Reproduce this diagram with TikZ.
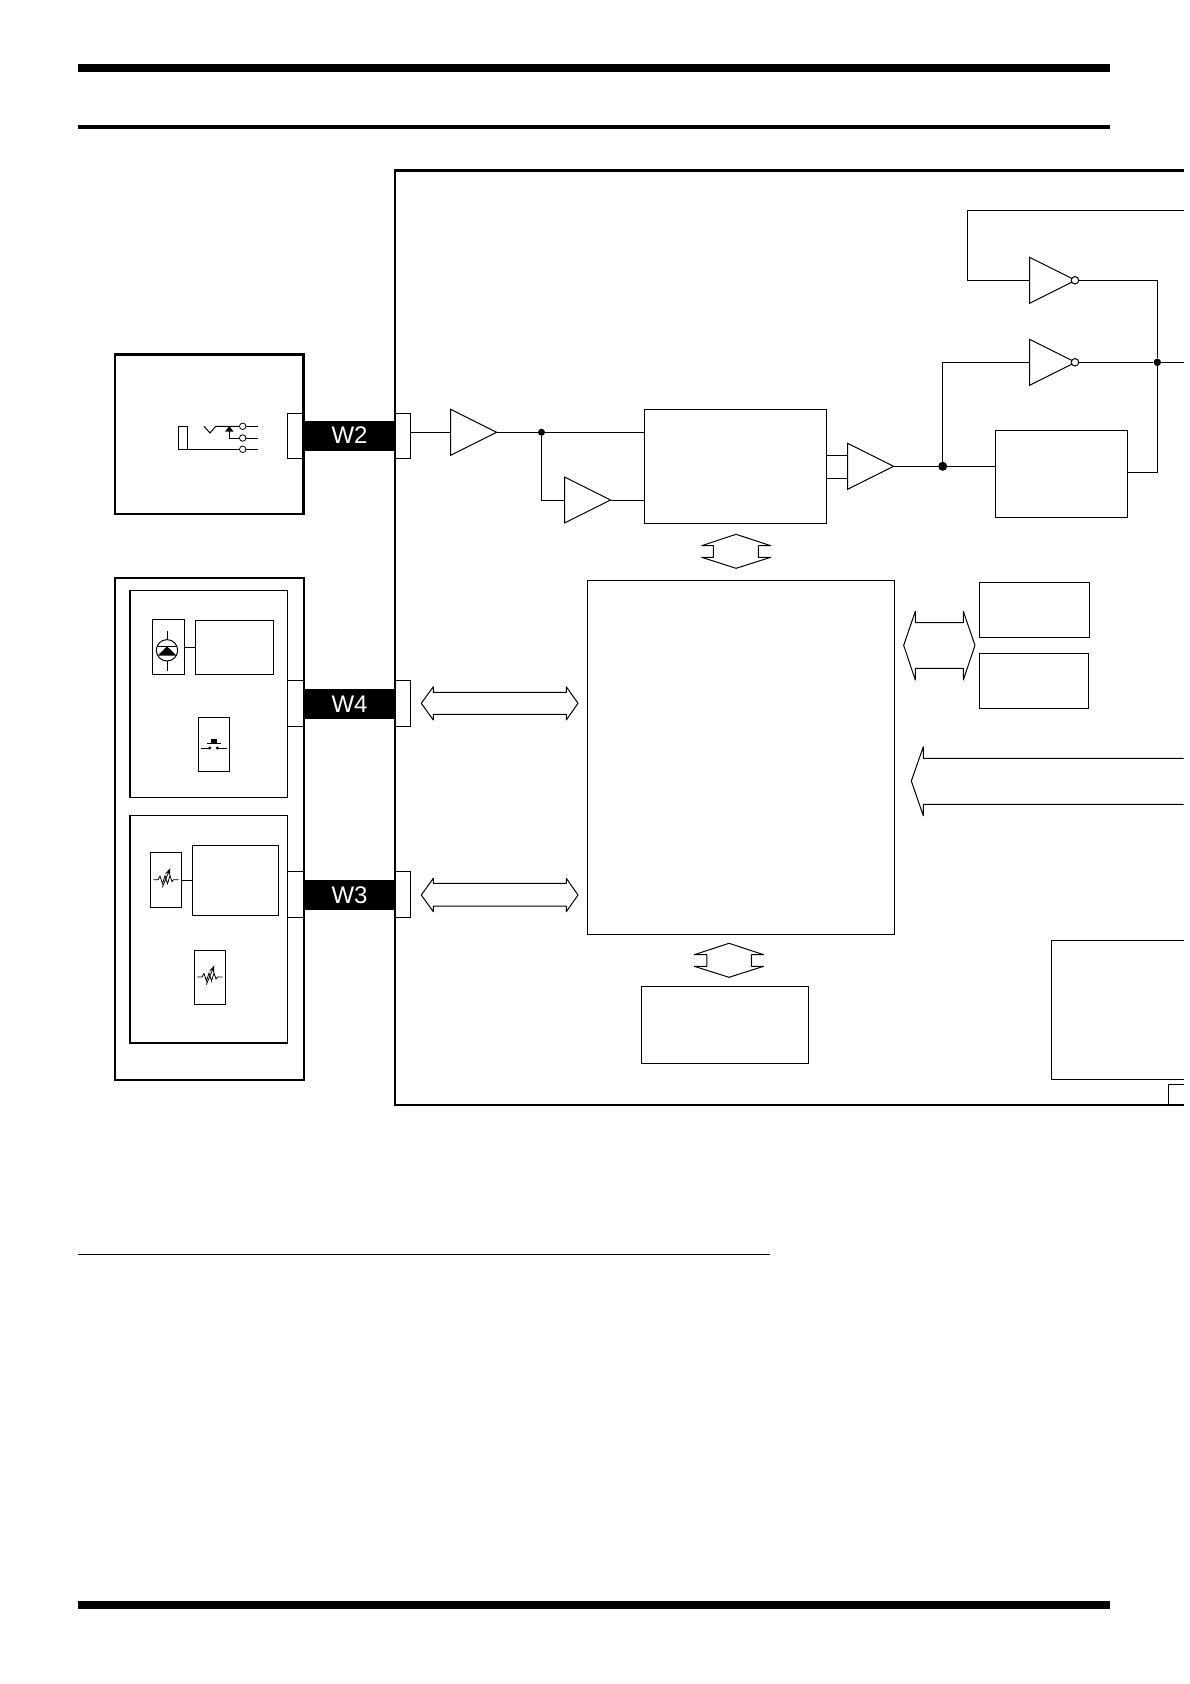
\documentclass[tikz,border=0pt]{standalone}
\usepackage{fontspec}
\setmainfont{Liberation Sans}
\usetikzlibrary{arrows.meta,shapes.geometric}
\tikzset{
    box/.style={draw,line width=1pt,inner sep=0pt,outer sep=0pt},
    frame/.style={box,line width=2.4pt},
    panel/.style={box,line width=1.5pt},
    wirelabel/.style={fill=black,text=white,inner sep=0pt,outer sep=0pt,font=\fontsize{24}{24}\selectfont,minimum width=91pt,minimum height=30pt},
    tab/.style={box,minimum width=15.7pt,minimum height=45.5pt},
    amp/.style={draw,line width=1pt,isosceles triangle,isosceles triangle stretches,isosceles triangle apex angle=60,minimum width=46pt,minimum height=46pt,inner sep=0pt,outer sep=0pt,anchor=lower side},
    bubble/.style={circle,draw,fill=white,line width=1pt,inner sep=0pt,minimum size=7.5pt},
    dot/.style={circle,fill=black,inner sep=0pt,minimum size=#1},
    terminal/.style={circle,draw,fill=white,line width=.8pt,inner sep=0pt,minimum size=6.5pt},
    wire/.style={line width=1pt},
    blockarrow/.style={line width=1pt,line join=round,fill=white},
}
\begin{document}
\begin{tikzpicture}[x=1pt,y=-1pt]
    \useasboundingbox (0,0) rectangle (1190,1684);
    % page rules
    \draw [line width=8pt] (78,68)--(1110,68);
    \draw [line width=4.2pt] (78,126.8)--(1110,126.8);
    \draw [line width=1pt] (78,1254)--(770,1254);
    \draw [line width=8pt] (78,1605)--(1110,1605);
    % connector tabs
    \node [tab] (tabjackl) at (295.2,435.8) {};
    \node [tab] (tabjackr) at (402.9,435.8) {};
    \node [tab] (tabledl) at (295.6,703.3) {};
    \node [tab] (tabledr) at (402.7,703.3) {};
    \node [tab] (tabpotl) at (295.6,894.3) {};
    \node [tab] (tabpotr) at (402.9,894.3) {};
    % outer frames
    \coordinate (edgetop) at (1183.5,170.3);
    \coordinate (edgebot) at (1183.5,1105);
    \draw [line width=2.4pt] (edgetop) -| (395,1105) -- (edgebot);
    \node [frame,minimum width=188.3pt,minimum height=159.4pt] (jackbox) at (209.2,434) {};
    \node [frame,minimum width=189pt,minimum height=501.7pt] (panelbox) at (209.5,828.85) {};
    \node [panel,minimum width=157.3pt,minimum height=207pt] (ledpanel) at (208.65,694.2) {};
    \node [panel,minimum width=157.3pt,minimum height=227.3pt] (potpanel) at (208.65,929.35) {};
    % cable labels
    \node [wirelabel] (w2) at (349.5,435.8) {\raisebox{1pt}{W2}};
    \node [wirelabel] (w4) at (349.5,703.8) {W4};
    \node [wirelabel] (w3) at (349.5,894.8) {W3};
    % jack
    \draw [wire] (178,426.3) rectangle (187.3,449.3);
    \node [terminal] (jacka) at (242.7,426.3) {};
    \node [terminal] (jackb) at (242.7,438) {};
    \node [terminal] (jackc) at (242.7,449.3) {};
    \coordinate (jackend) at (258,0);
    \draw [wire] (178,449.3)--(jackc)--(jackc -| jackend);
    \draw [wire] (229.3,429)|-(jackb);
    \draw [wire] (jackb)--(jackb -| jackend);
    \draw [wire] (204,426.3)--(210,433)--(215.7,426.3)--(jacka);
    \draw [wire] (jacka)--(jacka -| jackend);
    \fill (229.3,426) -- (233.6,431.7) -- (225,431.7) -- cycle;
    % lamp and push button
    \node [box,minimum width=31.3pt,minimum height=54.3pt] (ledcell) at (168.35,646.85) {};
    \node [box,minimum width=78.3pt,minimum height=54.3pt] (ledbox) at (234.15,647.15) {};
    \draw [wire] (ledcell.east |- ledbox)--(ledbox);
    \draw [wire] (167,631)--(167,670.7);
    \draw [wire,fill=white] (167,650.3) circle [radius=10.7pt];
    \draw [wire] (157.5,646.3)--(176.5,646.3);
    \fill (167,646.3)--(176.7,655.7)--(157.7,655.7)--cycle;
    \node [box,minimum width=31.3pt,minimum height=54.3pt] (pushcell) at (213.65,744.15) {};
    \draw [wire] (201,748)--(209.7,748);
    \draw [wire] (217.3,748)--(226.7,748);
    \fill (209.7,748) circle [radius=1.6pt];
    \fill (217.3,748) circle [radius=1.6pt];
    \fill (211,739) rectangle (217,743.6);
    \draw [wire] (207,743.7)--(220.7,743.7);
    % pots
    \node [box,minimum width=31.4pt,minimum height=54.6pt] (potcella) at (166,880) {};
    \node [box,minimum width=85.7pt,minimum height=70pt] (potbox) at (235.15,880) {};
    \node [box,minimum width=31.4pt,minimum height=54pt] (potcellb) at (210,977) {};
    \draw [wire] (potcella)--(potbox);
    \foreach \px/\py in {166/879.7,210/977}
    {
        \begin{scope}[shift={(\px,\py)}]
            \draw [line width=.8pt] (-12.7,0)--(-8,0)--(-6,-3.5)--(-3.5,4)--(-1,-4)--(1.5,4)--(4,-4)--(6,2)--(7.5,0)--(12.7,0);
            \draw [line width=.8pt,-{Stealth[length=7pt,width=5pt]}] (-3.7,7.7)--(4.3,-11.5);
        \end{scope}
    }
    % bus arrows
    \draw [blockarrow] (421.3,703.3)--(433.3,686.7)--(433.3,692.3)--(566.3,692.3)--(566.3,686.7)--(578,703.3)--(566.3,720)--(566.3,714.3)--(433.3,714.3)--(433.3,720)--cycle;
    \draw [blockarrow] (421.3,895)--(433.3,878.3)--(433.3,883.3)--(566.3,883.3)--(566.3,878.3)--(578,895)--(566.3,911.7)--(566.3,906)--(433.3,906)--(433.3,911.7)--cycle;
    \draw [blockarrow] (736,534.3)--(770.7,545.7)--(758.3,545.7)--(758.3,557.3)--(770.7,557.3)--(736,568.3)--(701.7,557.3)--(713.3,557.3)--(713.3,545.7)--(701.7,545.7)--cycle;
    \draw [blockarrow] (729,943.3)--(763.6,954.7)--(751.4,954.7)--(751.4,966.3)--(763.6,966.3)--(729,977.3)--(694.3,966.3)--(706.8,966.3)--(706.8,954.7)--(694.3,954.7)--cycle;
    \draw [blockarrow] (903.7,645.3)--(915.3,611.3)--(915.3,622.7)--(963.3,622.7)--(963.3,611.3)--(975,645.3)--(963.3,680)--(963.3,668.3)--(915.3,668.3)--(915.3,680)--cycle;
    \draw [blockarrow] (1183.5,758.3)--(923.3,758.3)--(923.3,746.7)--(911.3,781)--(923.3,815.7)--(923.3,804.3)--(1183.5,804.3);
    % main blocks
    \node [box,minimum width=182pt,minimum height=113.7pt] (mixblock) at (735.3,466.15) {};
    \node [box,minimum width=307.7pt,minimum height=354.3pt] (cpublock) at (740.85,757.15) {};
    \node [box,minimum width=132pt,minimum height=87pt] (filterblock) at (1061,473.8) {};
    \node [box,minimum width=110.4pt,minimum height=55pt] (memorya) at (1034.5,609.8) {};
    \node [box,minimum width=109.4pt,minimum height=55pt] (memoryb) at (1034,680.8) {};
    \node [box,minimum width=166.8pt,minimum height=77pt] (lowerblock) at (724.8,1024.8) {};
    \draw [wire] (1183.5,940)-|(1051.8,1079.3)--(1183.5,1079.3);
    \draw [wire] (edgebot |- 0,1084.3)-|(1168,1105);
    % amplifiers
    \node [amp] (ampin) at (450.7,432.3) {};
    \node [amp] (ampsub) at (564.5,500) {};
    \node [amp] (ampout) at (847.7,466.3) {};
    \node [amp] (invfb) at (1029.7,280.3) {};
    \node [amp] (invout) at (1029.7,362.3) {};
    \node [bubble] (bubblefb) at (1075,280.3) {};
    \node [bubble] (bubbleout) at (1075,362.3) {};
    \node [dot=7pt] (junin) at (541.5,432.3) {};
    \node [dot=9pt] (junout) at (942.7,466.3) {};
    \node [dot=7.5pt] (junsum) at (1157.3,362.3) {};
    % signal path
    \draw [wire] (tabjackr.east |- ampin.lower side)--(ampin.lower side);
    \draw [wire] (ampin.apex)--(junin);
    \draw [wire] (junin)--(junin -| mixblock.west);
    \draw [wire] (junin)|-(ampsub.lower side);
    \draw [wire] (ampsub.apex)--(ampsub.apex -| mixblock.west);
    \draw [wire] (mixblock.east |- 0,455)--(ampout.lower side |- 0,455);
    \draw [wire] (mixblock.east |- 0,478.7)--(ampout.lower side |- 0,478.7);
    \draw [wire] (ampout.apex)--(junout);
    \draw [wire] (junout)--(filterblock.west |- junout);
    \draw [wire] (junout)|-(invout.lower side);
    \draw [wire] (bubbleout)--(junsum);
    \draw [wire] (junsum)--(junsum -| edgetop);
    \draw [wire] (filterblock.east |- 0,472.3)-|(junsum);
    \draw [wire] (junsum)|-(bubblefb);
    \draw [wire] (invfb.lower side)-|(967.3,210.3)--(1183.5,210.3);
\end{tikzpicture}
\end{document}
